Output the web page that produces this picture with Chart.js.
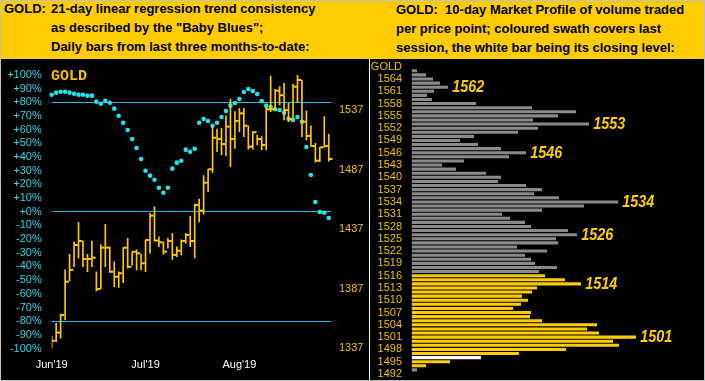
<!DOCTYPE html>
<html><head><meta charset="utf-8">
<script src="https://cdn.jsdelivr.net/npm/chart.js@4/dist/chart.umd.min.js"></script>
<style>
html,body{margin:0;padding:0;background:#000;overflow:hidden;}
#wrap{position:relative;width:705px;height:381px;background:#000;overflow:hidden;font-family:'Liberation Sans',Arial,sans-serif;}
#head{position:absolute;left:0;top:0;width:705px;height:59px;background:#FFCC00;}
.t{position:absolute;font-weight:bold;font-size:13px;line-height:18.9px;color:#000;white-space:pre;}
#frame{position:absolute;left:0;top:0;width:705px;height:381px;box-sizing:border-box;border:1px solid #c0c0c0;z-index:10;pointer-events:none;}
#vline{position:absolute;left:369px;top:59px;width:1px;height:322px;background:#fff;}
#gold{position:absolute;left:51px;top:69px;font:bold 15px/15px 'Liberation Mono','DejaVu Sans Mono',monospace;color:#F5BE00;}
canvas{position:absolute;}
</style></head>
<body>
<div id="wrap">
  <div id="head"></div>
  <div class="t" style="left:4px;top:0.3px;">GOLD:</div>
  <div class="t" style="left:51px;top:0.3px;">21-day linear regression trend consistency
as described by the "Baby Blues";
Daily bars from last three months-to-date:</div>
  <div class="t" style="left:396px;top:0.8px;">GOLD:  10-day Market Profile of volume traded
per price point; coloured swath covers last
session, the white bar being its closing level:</div>
  <canvas id="c1" width="368" height="345" style="left:0;top:50px;width:368px;height:345px;"></canvas>
  <div id="vline"></div>
  <canvas id="c2" width="335" height="360" style="left:370px;top:40px;width:335px;height:360px;"></canvas>
  <div id="gold">GOLD</div>
  <div id="frame"></div>
</div>
<script>
// ---- Left panel data: daily bars (Jun-Aug 2019) ----
const monthLabels = ["Jun'19", "Jul'19", "Aug'19"];
const monthIdx = [0, 21, 42];
const high = [1347.1,1357.8,1365.6,1402.6,1415.7,1426.3,1442.6,1426.9,1415.7,1426.9,
  1401.1,1423.6,1441.0,1422.1,1409.5,1401.1,1421.3,1429.2,1417.9,1419.4,
  1415.7,1427.8,1450.2,1455.7,1430.5,1426.3,1429.2,1433.4,1422.1,1427.8,
  1433.4,1447.9,1458.0,1462.2,1481.8,1487.2,1523.0,1521.0,1521.6,1532.0,
  1546.2,1535.6,1538.4,1538.4,1523.8,1518.8,1516.0,1514.6,1539.8,1565.6,
  1554.4,1556.6,1559.4,1542.6,1558.8,1566.4,1562.2,1536.4,1523.6,1509.0,
  1505.7,1531.4,1516.8];
const low = [1336.8,1342.3,1345.2,1360.5,1393.3,1405.3,1412.4,1405.3,1401.1,1405.3,
  1384.9,1386.6,1405.3,1400.6,1388.5,1388.0,1391.9,1404.0,1406.7,1402.6,
  1402.6,1401.1,1416.6,1426.9,1422.1,1415.7,1420.8,1411.5,1413.7,1415.2,
  1425.0,1422.1,1412.4,1442.9,1449.4,1468.3,1484.3,1502.0,1499.2,1498.6,
  1489.4,1504.8,1518.8,1514.6,1504.0,1504.0,1507.6,1503.4,1503.4,1535.6,
  1537.0,1541.2,1528.6,1527.2,1530.0,1543.1,1514.6,1511.8,1506.7,1493.1,
  1493.6,1505.7,1494.1];
const close = [1343.1,1349.9,1364.7,1392.7,1402.6,1423.6,1426.9,1411.8,1411.8,1412.9,
  1386.6,1421.3,1421.3,1401.1,1396.9,1399.8,1421.3,1405.3,1417.9,1416.6,
  1408.2,1427.8,1448.2,1427.3,1425.8,1417.9,1426.9,1415.2,1418.8,1426.9,
  1432.0,1426.9,1457.2,1452.4,1475.9,1487.2,1513.7,1512.6,1508.4,1523.0,
  1512.6,1527.8,1534.2,1523.8,1506.2,1518.3,1512.6,1507.6,1537.6,1537.6,
  1553.2,1549.4,1537.0,1529.2,1556.6,1562.2,1527.2,1515.2,1506.7,1494.4,
  1505.7,1506.7,1495.8];
// "Baby Blues" trend consistency, percent
const trend = [85.6,87.1,87.8,87.8,87.1,86.3,85.6,85.6,84.9,84.9,
  80.5,79.0,81.2,79.7,75.4,70.2,65.1,59.8,53.2,46.6,
  38.6,30.0,26.4,23.4,17.6,13.9,17.6,31.5,35.9,37.3,
  45.4,43.9,46.1,65.1,67.8,66.4,62.9,65.1,69.3,73.7,
  77.6,79.5,82.4,87.6,89.8,88.3,86.1,81.0,77.6,76.6,
  75.0,74.4,72.4,68.0,67.1,69.3,65.8,47.3,26.9,7.1,
  -0.2,-0.7,-4.6];
const trendLines = [80, 0, -80];
const pctTicks = [100,90,80,70,60,50,40,30,20,10,0,-10,-20,-30,-40,-50,-60,-70,-80,-90,-100];
const priceTicks = [1337, 1387, 1437, 1487, 1537];

// ---- Right panel data: 10-day market profile ----
const profilePrices = [1566,1565,1564,1563,1562,1561,1560,1559,1558,1557,1556,1555,1554,1553,1552,1551,1550,1549,1548,1547,
  1546,1545,1544,1543,1542,1541,1540,1539,1538,1537,1536,1535,1534,1533,1532,1531,1530,1529,1528,1527,
  1526,1525,1524,1523,1522,1521,1520,1519,1518,1517,1516,1515,1514,1513,1512,1511,1510,1509,1508,1507,
  1506,1505,1504,1503,1502,1501,1500,1499,1498,1497,1496,1495,1494,1493];
const profileVolume = [5,14,21,28,36,22,15,20,64,120,164,146,121,177,126,106,62,48,66,89,
  114,97,52,30,44,74,89,86,114,130,122,147,206,172,130,90,98,113,119,156,
  165,144,146,105,135,113,119,123,145,127,133,153,169,125,120,110,116,109,101,119,
  118,130,185,175,187,224,201,207,154,107,69,38,14,5];
const profileTicks = [1567,1564,1561,1558,1555,1552,1549,1546,1543,1540,1537,1534,1531,1528,1525,1522,1519,1516,1513,1510,1507,1504,1501,1498,1495,1492];
const peakLabels = [1562, 1553, 1546, 1534, 1526, 1514, 1501];
const lastLow = 1494, lastHigh = 1516, lastClose = 1496;

Chart.defaults.font.family = "'Liberation Sans', Arial, sans-serif";
Chart.defaults.font.size = 11;

const idx = high.map((_, i) => i);
const GOLDC = '#FFC800';

new Chart(document.getElementById('c1'), {
  type: 'bar',
  data: { datasets: [
    { type: 'bar', data: idx.map(i => ({ x: i, y: [low[i], high[i]] })), yAxisID: 'y2',
      backgroundColor: GOLDC, barThickness: 1, grouped: false, borderWidth: 0 },
    { type: 'scatter', data: idx.map(i => ({ x: i + 0.45, y: close[i] })), yAxisID: 'y2',
      pointStyle: 'line', pointRadius: 1.75, borderColor: GOLDC, borderWidth: 2, clip: false },
    { type: 'scatter', data: idx.map(i => ({ x: i, y: trend[i] })), yAxisID: 'y',
      pointStyle: 'circle', pointRadius: 2.3, backgroundColor: '#22E4EC', borderWidth: 0, clip: false }
  ]},
  options: {
    responsive: false, animation: false, devicePixelRatio: 1,
    layout: { padding: { top: 25, left: 0, right: 0, bottom: 0 } },
    plugins: { legend: { display: false }, tooltip: { enabled: false } },
    scales: {
      x: { type: 'linear', min: 0, max: 62.5, offset: false,
        grid: { display: false, drawTicks: false, offset: false }, border: { display: false },
        afterBuildTicks: s => { s.ticks = monthIdx.map(v => ({ value: v })); },
        ticks: { color: '#ffffff', padding: 10, autoSkip: false, maxRotation: 0,
          callback: v => { const k = monthIdx.indexOf(v); return k >= 0 ? monthLabels[k] : ''; } },
        afterFit: s => { s.height = 46.5; } },
      y: { type: 'linear', position: 'left', min: -100, max: 100,
        afterBuildTicks: s => { s.ticks = pctTicks.map(v => ({ value: v })); },
        ticks: { color: '#2AD8E8', padding: 10, autoSkip: false, callback: v => (v >= 0 ? '+' : '') + v + '%' },
        grid: { drawTicks: false, color: c => (c.tick && trendLines.includes(c.tick.value)) ? '#18BEF0' : 'rgba(0,0,0,0)' },
        border: { display: false },
        afterFit: s => { s.width = 51.7; } },
      y2: { type: 'linear', position: 'right', min: 1336.58, max: 1566.41,
        afterBuildTicks: s => { s.ticks = priceTicks.map(v => ({ value: v })); },
        ticks: { color: '#F0C000', padding: 8, autoSkip: false, callback: v => String(v) },
        grid: { display: false, drawTicks: false }, border: { display: false },
        afterFit: s => { s.width = 37; } }
    }
  }
});

const peakPlugin = {
  id: 'peaks',
  afterDatasetsDraw(chart) {
    const { ctx, scales: { x, y } } = chart;
    ctx.save();
    ctx.font = "italic bold 16px 'Liberation Sans', Arial, sans-serif";
    ctx.fillStyle = '#FFCC00';
    ctx.textBaseline = 'middle';
    ctx.textAlign = 'left';
    peakLabels.forEach(p => {
      const v = profileVolume[profilePrices.indexOf(p)];
      ctx.fillText(String(p), x.getPixelForValue(v) + 4.5, y.getPixelForValue(p) + 0.5, 32);
    });
    ctx.restore();
  }
};

new Chart(document.getElementById('c2'), {
  type: 'bar',
  data: { datasets: [{
    data: profilePrices.map((p, k) => ({ x: profileVolume[k], y: p })),
    backgroundColor: profilePrices.map(p => p === lastClose ? '#FFFFFF' : (p >= lastLow && p <= lastHigh ? '#FFCC00' : '#8A8A8A')),
    barThickness: 2.4, borderWidth: 0, grouped: false
  }]},
  options: {
    indexAxis: 'y', responsive: false, animation: false, devicePixelRatio: 1,
    layout: { padding: { top: 22, bottom: 21, left: 0, right: 0 } },
    plugins: { legend: { display: false }, tooltip: { enabled: false } },
    scales: {
      x: { type: 'linear', display: false, min: 0, max: 293.3 },
      y: { type: 'linear', position: 'left', min: 1490.777, max: 1568.149, offset: false,
        afterBuildTicks: s => { s.ticks = profileTicks.map(v => ({ value: v })); },
        ticks: { color: '#F0C000', padding: 9.7, autoSkip: false, callback: v => v === 1567 ? 'GOLD' : String(v) },
        grid: { display: false, drawTicks: false, offset: false }, border: { display: false },
        afterFit: s => { s.width = 41.7; } }
    }
  },
  plugins: [peakPlugin]
});
</script>
</body></html>
